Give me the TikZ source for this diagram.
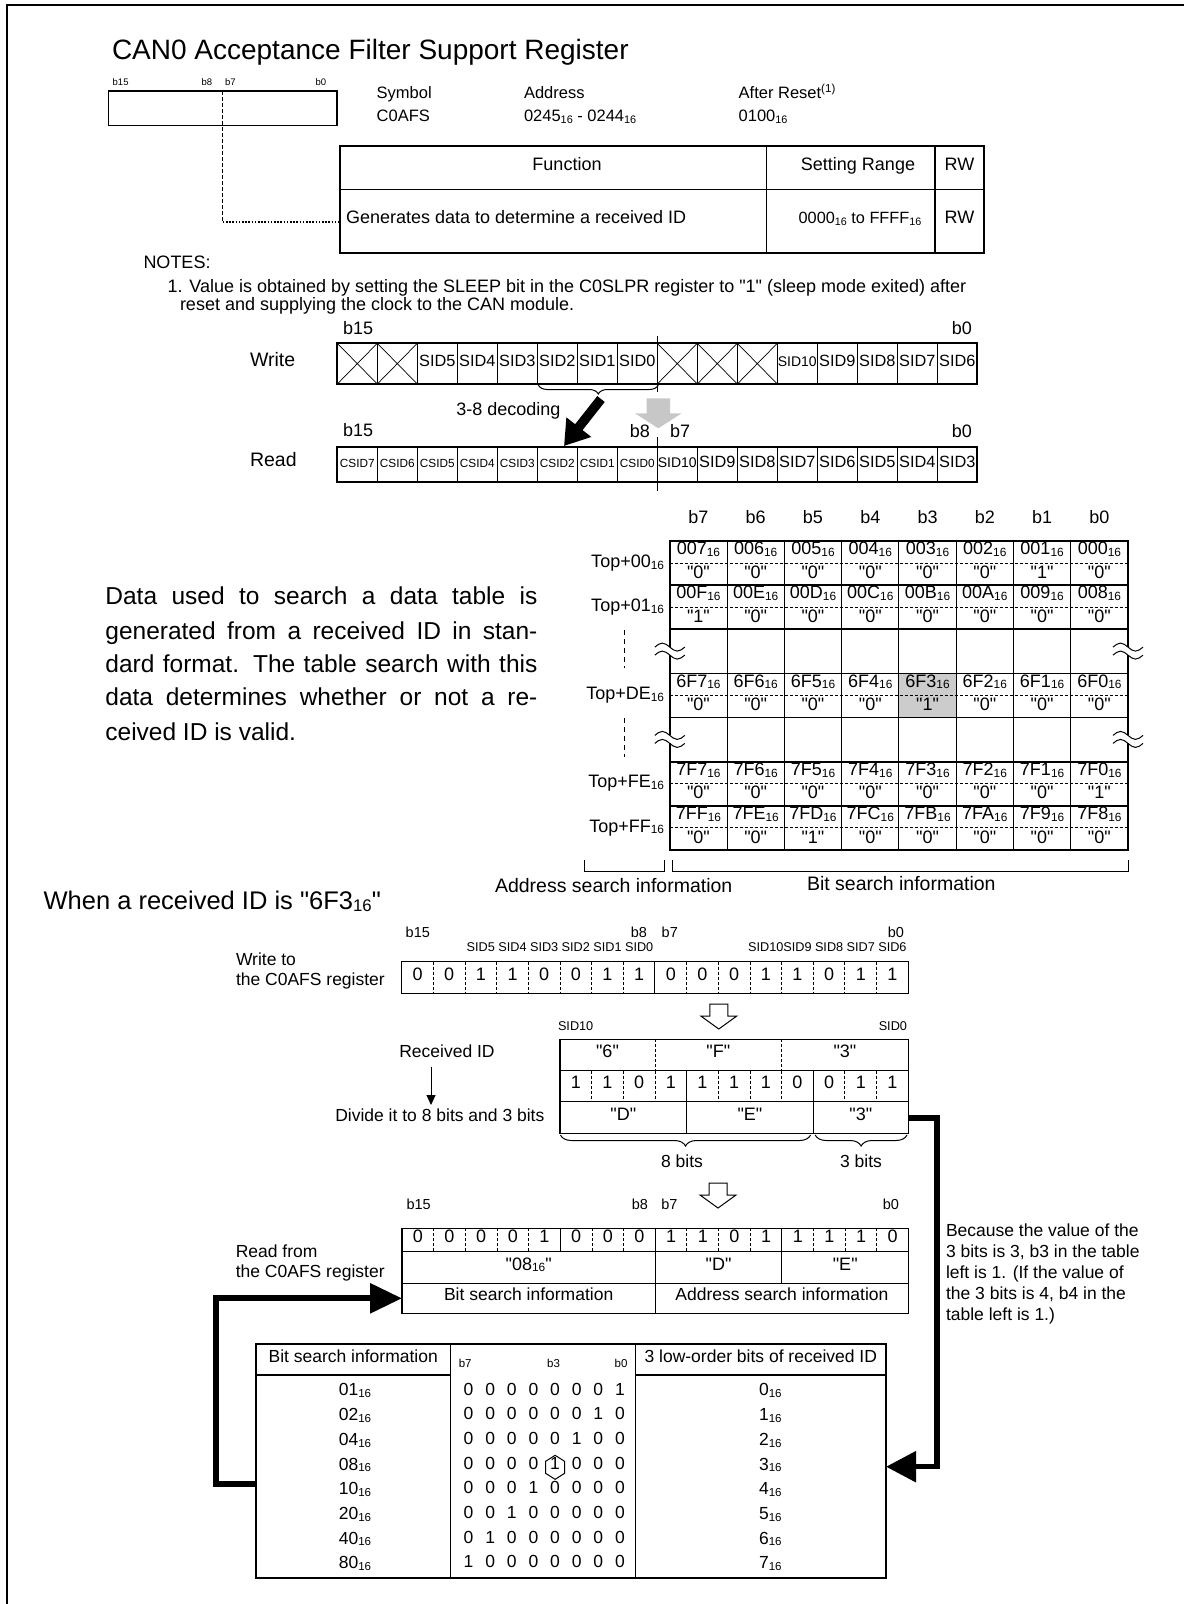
\documentclass[tikz,border=0pt]{standalone}
\usepackage{fontspec}
\usepackage{graphicx}
\setmainfont{Liberation Sans}[Ligatures=TeXOff]
\usetikzlibrary{arrows.meta,decorations.pathreplacing}
\newcommand{\fsz}[1]{\fontsize{#1}{#1}\selectfont}
\newcommand{\sx}{\raisebox{-0.1em}{\scalebox{0.66}{16}}}
\newcommand{\hexdig}[1]{\ifcase#1 0\or 1\or 2\or 3\or 4\or 5\or 6\or 7\or 8\or 9\or A\or B\or C\or D\or E\or F\fi}
\begin{document}
\begin{tikzpicture}[x=1pt,y=-1pt,
  every node/.style={inner sep=0pt,outer sep=0pt,anchor=mid},
  lw/.style={anchor=mid west},
  le/.style={anchor=mid east},
  szA/.style={font=\fsz{28}},
  szB/.style={font=\fsz{24.5}},
  szBB/.style={font=\fsz{25.5}},
  szC/.style={font=\fsz{19.5}},
  szD/.style={font=\fsz{18}},
  szE/.style={font=\fsz{17.5}},
  szF/.style={font=\fsz{16.5}},
  szG/.style={font=\fsz{16.3}},
  szH/.style={font=\fsz{14.5}},
  szI/.style={font=\fsz{14}},
  szJ/.style={font=\fsz{12.7}},
  szK/.style={font=\fsz{11.5}},
  szL/.style={font=\fsz{11.8}},
  szM/.style={font=\fsz{9.5}},
  szW/.style={font=\fsz{19.5}},
  thk/.style={line width=2},
  ln/.style={line width=1},
  dsh/.style={line width=0.9,dash pattern=on 3pt off 2pt},
  hollow/.style={line width=1,fill=white},
  brc/.style={line width=1,decorate,decoration={brace,amplitude=#1}},
  fat/.style={line width=#1,line join=miter},
]
\useasboundingbox (0,0) rectangle (1184,1604);
% frame
\draw[line width=2] (7,1604) -- (7,5) -- (1184,5);

% ---------- header ----------
\node[szA,anchor=base west] (title) at (112,59) {CAN0 Acceptance Filter Support Register};
\draw[line width=1.6] (108.3,91) rectangle (336.7,125.3);
\node[szM,lw] (rb15) at (112.7,82.7) {b15};
\node[szM,lw] (rb8) at (201.7,82.7) {b8};
\node[szM,lw] (rb7) at (225,82.7) {b7};
\node[szM,lw] (rb0) at (315.7,82.7) {b0};
\coordinate (dv) at (222.7,91);
\coordinate (dc) at (222.7,221.7);
\coordinate (de) at (340,221.7);
\draw[line width=1.2,dash pattern=on 3.5pt off 2.5pt] (dv) -- (dc);
\draw[line width=2,dash pattern=on 1.6pt off 1.6pt] (dc) -- (de);

\node[szF,lw] (sym) at (376.7,96) {Symbol};
\node[szF,lw] (symv) at (376.7,119.3) {C0AFS};
\node[szF,lw] (adr) at (524,96) {Address};
\node[szF,lw] (adrv) at (524,119.3) {0245\sx\ - 0244\sx};
\node[szF,lw] (rst) at (738.7,96) {After Reset\textsuperscript{(1)}};
\node[szF,lw] (rstv) at (738.7,119.3) {0100\sx};

\draw[line width=2.2] (340,145.7) rectangle (984,253.3);
\draw[line width=1.3] (340,189.3) -- (984,189.3);
\draw[line width=1.3] (766.6,145.7) -- (766.6,253.3) (935,145.7) -- (935,253.3);
\node[szD] (fh1) at (567,167.5) {Function};
\node[szD] (fh2) at (858,167.5) {Setting Range};
\node[szD] (fh3) at (959.5,167.5) {RW};
\node[szD,lw] (fr1) at (346,221.3) {Generates data to determine a received ID};
\node[szG] (fr2) at (860,221.3) {0000\sx\ to FFFF\sx};
\node[szD] (fr3) at (959.5,221.3) {RW};

\node[szD,lw] (notes) at (143.5,266) {NOTES:};
\node[szD,lw] (n1) at (167.7,290) {1. Value is obtained by setting the SLEEP bit in the C0SLPR register to "1" (sleep mode exited) after};
\node[szD,lw] (n2) at (180,308) {reset and supplying the clock to the CAN module.};

% ---------- write / read ----------
\def\wx{337.3}\def\ww{40}
\node[szW,lw] (wlab) at (250,363.7) {Write};
\node[szW,lw] (rlab) at (250,464) {Read};
\node[szD,lw] (wb15) at (343,331.7) {b15};
\node[szD,le] (wb0) at (972,331.7) {b0};
\node[szD,lw] (qb15) at (343,434) {b15};
\node[szD,le] (qb8) at (650,435) {b8};
\node[szD,lw] (qb7) at (670,435) {b7};
\node[szD,le] (qb0) at (972,435) {b0};
\foreach \i in {1,...,15} \draw[ln] ({\wx+\i*\ww},343.3) -- ({\wx+\i*\ww},384);
\foreach \i in {0,1,8,9,10} \draw[line width=0.7] ({\wx+\i*\ww},343.3) -- ({\wx+(\i+1)*\ww},384) ({\wx+\i*\ww},384) -- ({\wx+(\i+1)*\ww},343.3);
\draw[thk] (\wx,343.3) rectangle ({\wx+16*\ww},384);
\foreach \i/\t in {2/SID5,3/SID4,4/SID3,5/SID2,6/SID1,7/SID0,12/SID9,13/SID8,14/SID7,15/SID6}
  \node[szG] (ws\i) at ({\wx+(\i+0.5)*\ww},364) {\t};
\node[szI] (ws11) at ({\wx+11.5*\ww},364) {SID10};
\foreach \i in {1,...,15} \draw[ln] ({\wx+\i*\ww},446.7) -- ({\wx+\i*\ww},481.7);
\draw[thk] (\wx,446.7) rectangle ({\wx+16*\ww},481.7);
\foreach \i/\t in {0/CSID7,1/CSID6,2/CSID5,3/CSID4,4/CSID3,5/CSID2,6/CSID1,7/CSID0}
  \node[szL] (rs\i) at ({\wx+(\i+0.5)*\ww},464.5) {\t};
\node[szI] (rs8) at ({\wx+8.5*\ww},464.5) {SID10};
\foreach \i/\t in {9/SID9,10/SID8,11/SID7,12/SID6,13/SID5,14/SID4,15/SID3}
  \node[szG] (rs\i) at ({\wx+(\i+0.5)*\ww},464.5) {\t};
\draw[line width=0.8] (657.3,336) -- (657.3,392) (657.3,437) -- (657.3,491);
\draw[brc=9pt] (658.3,385) -- (538.3,385);
\fill[black!22] (646.7,398.3) -- (670,398.3) -- (670,413.3) -- (681.7,413.3) -- (658.3,428.3) -- (635,413.3) -- (646.7,413.3) -- cycle;
\coordinate (ka) at (601,399);
\coordinate (kb) at (564,446);
\draw[line width=9.5,-{Triangle[width=30pt,length=24pt]}] (ka) -- (kb);
\node[szD] (dec) at (508.3,413.3) {3-8 decoding};

% ---------- data table ----------
\def\tbx{669.8}\def\tbw{57.275}\def\tby{541}\def\tbh{44.143}
\fill[black!20] ({\tbx+4*\tbw},{\tby+3*\tbh}) rectangle ({\tbx+5*\tbw},{\tby+4*\tbh});
\foreach \j in {1,...,6} \draw[line width=1.6] (\tbx,{\tby+\j*\tbh}) -- ({\tbx+8*\tbw},{\tby+\j*\tbh});
\foreach \i in {1,...,7} \draw[ln] ({\tbx+\i*\tbw},\tby) -- ({\tbx+\i*\tbw},{\tby+7*\tbh});
\draw[thk] (\tbx,\tby) rectangle ({\tbx+8*\tbw},{\tby+7*\tbh});
\foreach \i/\b in {0/7,1/6,2/5,3/4,4/3,5/2,6/1,7/0}
  \node[szD] (th\i) at ({\tbx+(\i+0.5)*\tbw},521) {b\b};
\foreach \j/\rl/\pf/\hi/\one in {0/00/00/0/6,1/01/00/1/0,3/DE/6F/0/4,5/FE/7F/0/7,6/FF/7F/1/2}{
  \node[szD,le] (tl\j) at (664,{\tby+(\j+0.5)*\tbh+1.5}) {Top+\rl\sx};
  \draw[dsh] (\tbx,{\tby+(\j+0.5)*\tbh}) -- ({\tbx+8*\tbw},{\tby+(\j+0.5)*\tbh});
  \foreach \i in {0,...,7}{
    \pgfmathtruncatemacro\dd{7-\i+8*\hi}
    \node[szD] (ta\j\i) at ({\tbx+(\i+0.5)*\tbw},{\tby+\j*\tbh+11}) {\pf\hexdig{\dd}\sx};
    \ifnum\i=\one\relax \def\vv{1}\else\def\vv{0}\fi
    \node[szD] (tv\j\i) at ({\tbx+(\i+0.5)*\tbw},{\tby+\j*\tbh+34.5}) {"\vv"};
  }
}
\foreach \yc in {651.1,739.4}{
  \foreach \xc in {669.8,1128}{
    \fill[white] (\xc-3,\yc-4) rectangle (\xc+3,\yc+4);
    \draw[line width=1] (\xc-15,\yc-4) sin (\xc-7.5,\yc-8) cos (\xc,\yc-4) sin (\xc+7.5,\yc) cos (\xc+15,\yc-4);
    \draw[line width=1] (\xc-15,\yc+4) sin (\xc-7.5,\yc) cos (\xc,\yc+4) sin (\xc+7.5,\yc+8) cos (\xc+15,\yc+4);
  }
}
\draw[line width=1.2,dash pattern=on 5pt off 4pt] (624.8,630) -- (624.8,668) (624.8,718) -- (624.8,757);
\draw[ln] (584.9,860) -- (584.9,871.7) -- (664,871.7) -- (664,860);
\draw[ln] (672.6,860) -- (672.6,871.7) -- (1128.7,871.7) -- (1128.7,860);
\node[szC,lw] (asi) at (495,890) {Address search information};
\node[szC,lw] (bsi) at (807,888) {Bit search information};

\node[szB,lw] (p1) at (105.4,601.7) {\makebox[432pt][s]{Data used to search a data table is}};
\node[szB,lw] (p2) at (105.4,636.7) {\makebox[432pt][s]{generated from a received ID in stan-}};
\node[szB,lw] (p3) at (105.4,670) {\makebox[432pt][s]{dard format. The table search with this}};
\node[szB,lw] (p4) at (105.4,703.3) {\makebox[432pt][s]{data determines whether or not a re-}};
\node[szB,lw] (p5) at (105.4,738.3) {ceived ID is valid.};
\node[szBB,lw] (when) at (43.6,906.7) {When a received ID is "6F3\sx"};

% ---------- example: write register ----------
\def\rx{401.7}\def\rw{31.66}
\node[szE,lw] (wt1) at (236,963.3) {Write to};
\node[szE,lw] (wt2) at (236,983.3) {the C0AFS register};
\node[szH,lw] (xb15) at (405.7,935) {b15};
\node[szH,le] (xb8) at (647,935) {b8};
\node[szH,lw] (xb7) at (661.7,935) {b7};
\node[szH,le] (xb0) at (904,935) {b0};
\foreach \i/\t in {2/SID5,3/SID4,4/SID3,5/SID2,6/SID1,7/SID0,11/SID10,12/SID9,13/SID8,14/SID7,15/SID6}
  \node[szJ] (xs\i) at ({\rx+(\i+0.5)*\rw},949.3) {\t};
\foreach \i in {1,...,7,9,10,...,15} \draw[dsh] ({\rx+\i*\rw},961.7) -- ({\rx+\i*\rw},993.3);
\draw[ln] ({\rx+8*\rw},961.7) -- ({\rx+8*\rw},993.3);
\draw[line width=1.5] (\rx,961.7) rectangle ({\rx+16*\rw},993.3);
\foreach \d [count=\i from 0] in {0,0,1,1,0,0,1,1,0,0,0,1,1,0,1,1}
  \node[szD] (xd\i) at ({\rx+(\i+0.5)*\rw},977.5) {\d};
\draw[hollow] (709.8,1004) -- (727.8,1004) -- (727.8,1016) -- (736.8,1016) -- (718.8,1029) -- (700.8,1016) -- (709.8,1016) -- cycle;

% ---------- received ID ----------
\def\qx{560}
\node[szJ,lw] (qs10) at (558,1028.3) {SID10};
\node[szJ,le] (qs0) at (907,1028.3) {SID0};
\node[szE] (rid) at (447,1055) {Received ID};
\coordinate (ra) at (431,1066.7);
\coordinate (rb) at (431,1105);
\draw[ln,-{Triangle[width=9pt,length=10pt]}] (ra) -- (rb);
\node[szE,le] (div) at (544.4,1119) {Divide it to 8 bits and 3 bits};
\draw[ln] (\qx,1070.7) -- ({\qx+11*\rw},1070.7) (\qx,1101.7) -- ({\qx+11*\rw},1101.7);
\draw[dsh] ({\qx+3*\rw},1039.3) -- ({\qx+3*\rw},1070.7) ({\qx+7*\rw},1039.3) -- ({\qx+7*\rw},1070.7);
\foreach \i in {1,2,3,5,6,7,9,10} \draw[dsh] ({\qx+\i*\rw},1070.7) -- ({\qx+\i*\rw},1101.7);
\draw[ln] ({\qx+4*\rw},1070.7) -- ({\qx+4*\rw},1133.3) ({\qx+8*\rw},1070.7) -- ({\qx+8*\rw},1133.3);
\draw[line width=1.5] (\qx,1039.3) rectangle ({\qx+11*\rw},1133.3);
\node[szD] (q6) at ({\qx+1.5*\rw},1055) {"6"};
\node[szD] (qF) at ({\qx+5*\rw},1055) {"F"};
\node[szD] (q3) at ({\qx+9*\rw},1055) {"3"};
\foreach \d [count=\i from 0] in {1,1,0,1,1,1,1,0,0,1,1}
  \node[szD] (qd\i) at ({\qx+(\i+0.5)*\rw},1086.2) {\d};
\node[szD] (qD) at ({\qx+2*\rw},1117.5) {"D"};
\node[szD] (qE) at ({\qx+6*\rw},1117.5) {"E"};
\node[szD] (qT) at ({\qx+9.5*\rw},1117.5) {"3"};
\draw[brc=11pt] (810.6,1135) -- (560.4,1135);
\draw[brc=11pt] (907,1135) -- (815.2,1135);
\node[szE] (b8b) at (682,1165) {8 bits};
\node[szE] (b3b) at (861,1165) {3 bits};
\draw[hollow] (709,1183) -- (727,1183) -- (727,1195) -- (736,1195) -- (718,1208) -- (700,1195) -- (709,1195) -- cycle;

% ---------- read register ----------
\def\lx{402}
\node[szE,lw] (rf1) at (235.8,1255) {Read from};
\node[szE,lw] (rf2) at (235.8,1275) {the C0AFS register};
\node[szH,lw] (lb15) at (406.6,1207.3) {b15};
\node[szH,le] (lb8) at (648,1207.3) {b8};
\node[szH,lw] (lb7) at (661.4,1207.3) {b7};
\node[szH,le] (lb0) at (899,1207.3) {b0};
\foreach \i in {1,2,3,4,6,7,9,10,11,13,14,15} \draw[dsh] ({\lx+\i*\rw},1228.3) -- ({\lx+\i*\rw},1251.7);
\draw[ln] ({\lx+5*\rw},1228.3) -- ({\lx+5*\rw},1251.7);
\draw[ln] ({\lx+8*\rw},1228.3) -- ({\lx+8*\rw},1313.3);
\draw[ln] ({\lx+12*\rw},1228.3) -- ({\lx+12*\rw},1283.3);
\draw[ln] (\lx,1251.7) -- ({\lx+16*\rw},1251.7) (\lx,1283.3) -- ({\lx+16*\rw},1283.3);
\draw[line width=1.5] (\lx,1228.3) rectangle ({\lx+16*\rw},1313.3);
\foreach \d [count=\i from 0] in {0,0,0,0,1,0,0,0,1,1,0,1,1,1,1,0}
  \node[szD] (ld\i) at ({\lx+(\i+0.5)*\rw},1240) {\d};
\node[szD] (l08) at ({\lx+4*\rw},1267.5) {"08\sx"};
\node[szD] (lD) at ({\lx+10*\rw},1267.5) {"D"};
\node[szD] (lE) at ({\lx+14*\rw},1267.5) {"E"};
\node[szE] (lbs) at ({\lx+4*\rw},1298.3) {Bit search information};
\node[szE] (las) at ({\lx+12*\rw},1298.3) {Address search information};

% ---------- lookup table ----------
\draw[line width=1.3] (450.4,1344) -- (450.4,1578.3) (635.6,1344) -- (635.6,1578.3);
\draw[line width=1.6] (256,1375) -- (450.4,1375) (635.6,1375) -- (886,1375);
\draw[thk] (256,1344) rectangle (886,1578.3);
\node[szE] (h1) at (353.2,1360) {Bit search information};
\node[szK] (hb7) at (465.2,1365) {b7};
\node[szK] (hb3) at (553.5,1365) {b3};
\node[szK] (hb0) at (621,1365) {b0};
\node[szE] (h3) at (760.8,1360) {3 low-order bits of received ID};
\foreach \k/\h in {0/01,1/02,2/04,3/08,4/10,5/20,6/40,7/80}{
  \node[szE] (bs\k) at (355,{1393.3+\k*24.68}) {\h\sx};
  \node[szE] (bl\k) at (770.3,{1393.3+\k*24.68}) {\k\sx};
  \pgfmathtruncatemacro\pp{7-\k}
  \foreach \i in {0,...,7}{
    \ifnum\i=\pp\relax \def\vv{1}\else\def\vv{0}\fi
    \node[szE] (bb\k\i) at ({468.5+\i*21.64},{1392.5+\k*24.68}) {\vv};
  }
}
\draw[line width=1] (555.1,1455.3) -- (564.6,1461.3) -- (564.6,1473.3) -- (555.1,1479.3) -- (545.6,1473.3) -- (545.6,1461.3) -- cycle;

% ---------- thick loop arrows ----------
\coordinate (la) at (256,1484);
\coordinate (lb) at (216,1484);
\coordinate (lc) at (216,1298.3);
\draw[fat=6,-{Triangle[width=29pt,length=32pt]}] (la) -- (lb) -- (lc) -- (\lx,1298.3);
\coordinate (ma) at (908.3,1118);
\coordinate (mb) at (937,1118);
\coordinate (mc) at (937,1466.7);
\draw[fat=5.5,-{Triangle[width=30pt,length=30pt]}] (ma) -- (mb) -- (mc) -- (886,1466.7);
\node[szE,lw] (c1) at (946,1233.5) {Because the value of the};
\node[szE,lw] (c2) at (946,1254.5) {3 bits is 3, b3 in the table};
\node[szE,lw] (c3) at (946,1275.5) {left is 1. (If the value of};
\node[szE,lw] (c4) at (946,1296.5) {the 3 bits is 4, b4 in the};
\node[szE,lw] (c5) at (946,1317.5) {table left is 1.)};
\end{tikzpicture}
\end{document}
